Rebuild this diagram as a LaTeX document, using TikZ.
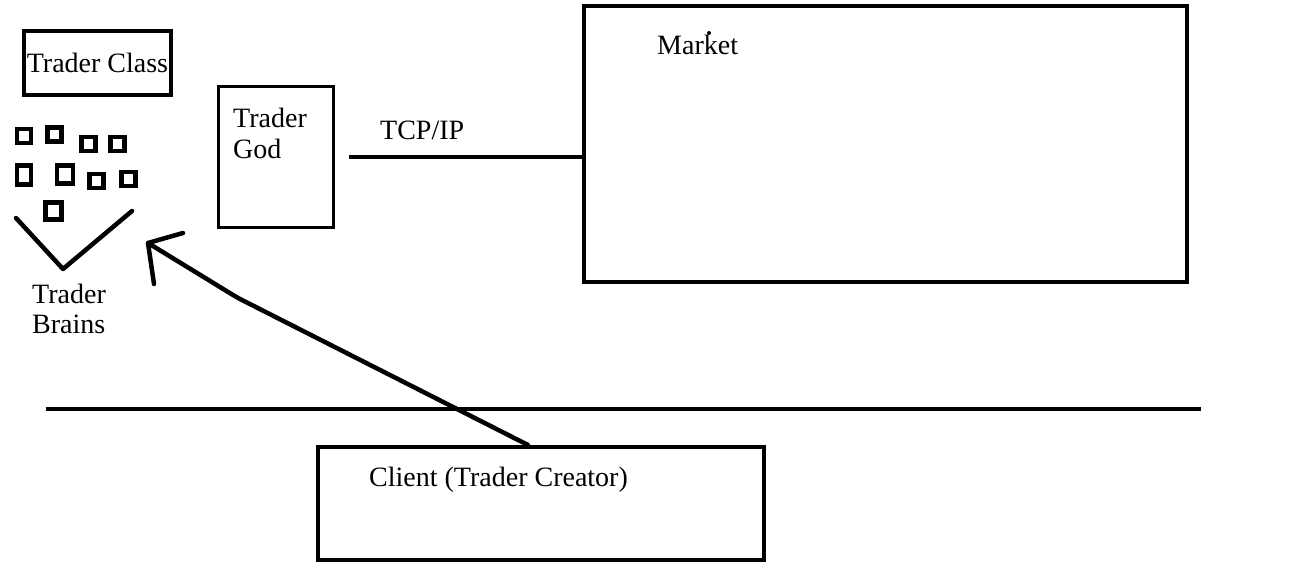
\documentclass[tikz,border=0pt]{standalone}
\usepackage{fontspec}
\setmainfont{Liberation Serif}
\begin{document}
\begin{tikzpicture}[x=1pt,y=-1pt,
  box/.style={draw,line width=4pt,inner sep=0pt},
  sq/.style={draw,line width=4.5pt,inner sep=0pt,minimum width=14pt,minimum height=14pt},
  lbl/.style={anchor=base west,inner sep=0pt,font=\fontsize{28}{32}\selectfont},
  stroke/.style={line width=4.5pt,line cap=round,line join=round}]
\useasboundingbox (0,0) rectangle (1296,583);
% boxes
\node[box,minimum width=147pt,minimum height=64pt,font=\fontsize{28}{32}\selectfont] (tc) at (97.5,63) {Trader Class};
\node[box,line width=3.5pt,minimum width=115pt,minimum height=141pt] (god) at (276,157) {};
\node[lbl] (godt1) at (233,128) {Trader};
\node[lbl] (godt2) at (233,158) {God};
\node[box,minimum width=603pt,minimum height=276pt] (mkt) at (885.5,144) {};
\node[lbl] (mktt) at (657,55) {Market};
\fill (709,33) circle (2pt);
\node[box,minimum width=446pt,minimum height=113pt] (cli) at (541,503.5) {};
\node[lbl] (clit) at (369,486) {Client (Trader Creator)};
% TCP/IP link
\coordinate (tcpA) at (349,157);
\coordinate (tcpB) at (582,157);
\draw[line width=4pt] (tcpA) -- (tcpB);
\node[lbl] (tcpt) at (380,140) {TCP/IP};
% divider
\coordinate (divA) at (46,409);
\coordinate (divB) at (1201,409);
\draw[line width=4pt] (divA) -- (divB);
% small squares (trader brains)
\node[sq] (s1) at (24,136) {};
\node[sq] (s2) at (54.5,134.5) {};
\node[sq] (s3) at (88.5,144) {};
\node[sq] (s4) at (117.5,144) {};
\node[sq,minimum height=19pt] (s5) at (24,175) {};
\node[sq,minimum width=16pt,minimum height=18pt] (s6) at (65,174.5) {};
\node[sq] (s7) at (96.5,181) {};
\node[sq] (s8) at (128.5,179) {};
\node[sq,minimum width=16pt,minimum height=17pt] (s9) at (53.5,211) {};
% V funnel
\coordinate (vA) at (16,218);
\coordinate (vB) at (63,269);
\coordinate (vC) at (132,211);
\draw[stroke] (vA) -- (vB) -- (vC);
\node[lbl] (tb1) at (32,303) {Trader};
\node[lbl] (tb2) at (32,333) {Brains};
% arrow from client
\coordinate (arS) at (528,445);
\coordinate (arK1) at (240,299);
\coordinate (arK2) at (233,295);
\coordinate (arT) at (148,243);
\coordinate (arB1) at (183,233);
\coordinate (arB2) at (154,284);
\draw[stroke] (arS) -- (arK1) -- (arK2) -- (arT);
\draw[stroke] (arB1) -- (arT) -- (arB2);
\end{tikzpicture}
\end{document}
